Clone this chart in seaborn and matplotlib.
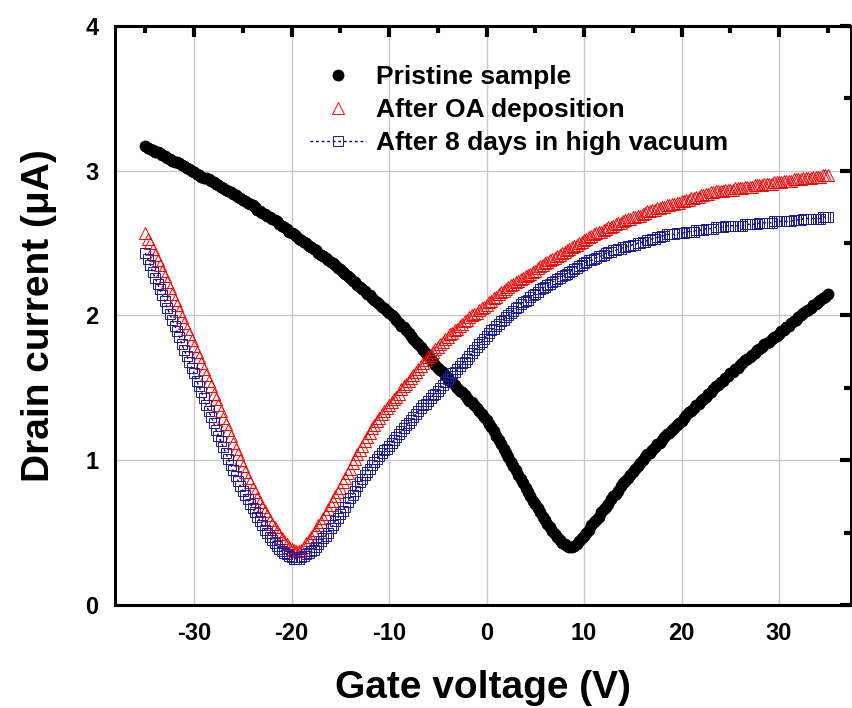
import numpy as np
import pandas as pd
import matplotlib
matplotlib.use('Agg')
import matplotlib.pyplot as plt
import seaborn as sns
from matplotlib.ticker import MultipleLocator

# gate voltage sweep, -35 V .. 35 V in 0.25 V steps
gate_v = np.arange(-35, 35.01, 0.25)

# drain current (uA), 20 points (5 V) per row
pristine = [
    3.17, 3.16, 3.15, 3.14, 3.13, 3.13, 3.12, 3.11, 3.10, 3.09, 3.08, 3.07, 3.06, 3.06, 3.05, 3.04, 3.03, 3.02, 3.01, 3.00,
    2.99, 2.98, 2.97, 2.96, 2.95, 2.95, 2.94, 2.93, 2.92, 2.91, 2.90, 2.89, 2.88, 2.87, 2.86, 2.85, 2.84, 2.83, 2.82, 2.81,
    2.80, 2.79, 2.78, 2.77, 2.76, 2.75, 2.73, 2.72, 2.71, 2.70, 2.69, 2.68, 2.67, 2.66, 2.65, 2.63, 2.62, 2.61, 2.60, 2.58,
    2.57, 2.56, 2.55, 2.53, 2.52, 2.51, 2.50, 2.48, 2.47, 2.46, 2.45, 2.43, 2.42, 2.41, 2.40, 2.38, 2.37, 2.36, 2.35, 2.33,
    2.32, 2.30, 2.29, 2.27, 2.26, 2.24, 2.23, 2.21, 2.20, 2.18, 2.17, 2.15, 2.14, 2.12, 2.11, 2.09, 2.08, 2.06, 2.05, 2.03,
    2.02, 2.00, 1.99, 1.97, 1.95, 1.93, 1.92, 1.90, 1.88, 1.86, 1.84, 1.82, 1.80, 1.78, 1.76, 1.74, 1.72, 1.70, 1.68, 1.66,
    1.64, 1.62, 1.61, 1.59, 1.57, 1.55, 1.54, 1.52, 1.50, 1.48, 1.47, 1.45, 1.43, 1.41, 1.40, 1.38, 1.36, 1.34, 1.32, 1.30,
    1.28, 1.25, 1.23, 1.20, 1.17, 1.14, 1.11, 1.08, 1.05, 1.02, 0.99, 0.96, 0.93, 0.90, 0.87, 0.84, 0.81, 0.78, 0.75, 0.72,
    0.70, 0.67, 0.64, 0.61, 0.59, 0.56, 0.54, 0.51, 0.49, 0.47, 0.45, 0.43, 0.42, 0.41, 0.40, 0.40, 0.41, 0.42, 0.44, 0.46,
    0.48, 0.50, 0.52, 0.55, 0.57, 0.59, 0.61, 0.64, 0.66, 0.68, 0.70, 0.73, 0.75, 0.77, 0.79, 0.82, 0.84, 0.86, 0.88, 0.90,
    0.92, 0.94, 0.96, 0.98, 1.00, 1.02, 1.04, 1.05, 1.07, 1.09, 1.11, 1.12, 1.14, 1.16, 1.18, 1.19, 1.21, 1.22, 1.24, 1.26,
    1.27, 1.29, 1.31, 1.33, 1.34, 1.36, 1.38, 1.39, 1.41, 1.42, 1.44, 1.46, 1.47, 1.49, 1.51, 1.52, 1.54, 1.55, 1.57, 1.58,
    1.60, 1.61, 1.63, 1.64, 1.66, 1.67, 1.69, 1.70, 1.71, 1.73, 1.74, 1.76, 1.77, 1.78, 1.80, 1.81, 1.82, 1.84, 1.85, 1.86,
    1.87, 1.89, 1.90, 1.92, 1.93, 1.95, 1.96, 1.97, 1.99, 2.00, 2.02, 2.03, 2.04, 2.05, 2.07, 2.08, 2.09, 2.11, 2.12, 2.13,
    2.15,
]

after_oa = [
    2.57, 2.53, 2.50, 2.46, 2.42, 2.38, 2.35, 2.31, 2.27, 2.23, 2.19, 2.15, 2.11, 2.07, 2.03, 1.99, 1.95, 1.91, 1.87, 1.83,
    1.79, 1.75, 1.71, 1.67, 1.63, 1.59, 1.55, 1.51, 1.46, 1.42, 1.38, 1.34, 1.29, 1.25, 1.21, 1.17, 1.12, 1.08, 1.04, 1.00,
    0.96, 0.92, 0.88, 0.85, 0.81, 0.78, 0.74, 0.71, 0.68, 0.65, 0.62, 0.59, 0.56, 0.54, 0.51, 0.49, 0.46, 0.44, 0.42, 0.40,
    0.39, 0.38, 0.37, 0.37, 0.38, 0.40, 0.43, 0.45, 0.47, 0.50, 0.52, 0.55, 0.57, 0.60, 0.63, 0.66, 0.69, 0.72, 0.75, 0.78,
    0.81, 0.85, 0.88, 0.91, 0.94, 0.98, 1.01, 1.04, 1.07, 1.10, 1.13, 1.16, 1.19, 1.22, 1.24, 1.27, 1.29, 1.32, 1.34, 1.36,
    1.38, 1.40, 1.42, 1.44, 1.46, 1.49, 1.51, 1.53, 1.55, 1.57, 1.59, 1.61, 1.63, 1.65, 1.67, 1.69, 1.71, 1.73, 1.75, 1.77,
    1.78, 1.80, 1.82, 1.84, 1.85, 1.87, 1.88, 1.90, 1.91, 1.93, 1.94, 1.96, 1.97, 1.99, 2.00, 2.01, 2.02, 2.04, 2.05, 2.06,
    2.07, 2.09, 2.10, 2.12, 2.13, 2.15, 2.16, 2.17, 2.18, 2.20, 2.21, 2.22, 2.23, 2.24, 2.25, 2.26, 2.27, 2.28, 2.29, 2.30,
    2.31, 2.33, 2.34, 2.35, 2.36, 2.37, 2.38, 2.39, 2.40, 2.41, 2.42, 2.43, 2.44, 2.45, 2.46, 2.47, 2.48, 2.49, 2.50, 2.51,
    2.52, 2.53, 2.54, 2.55, 2.56, 2.57, 2.58, 2.58, 2.59, 2.60, 2.61, 2.61, 2.62, 2.63, 2.64, 2.64, 2.65, 2.66, 2.67, 2.67,
    2.68, 2.68, 2.69, 2.69, 2.70, 2.71, 2.72, 2.72, 2.73, 2.73, 2.74, 2.74, 2.75, 2.75, 2.76, 2.76, 2.77, 2.77, 2.78, 2.78,
    2.79, 2.79, 2.80, 2.80, 2.81, 2.81, 2.82, 2.82, 2.83, 2.83, 2.84, 2.84, 2.85, 2.85, 2.86, 2.86, 2.86, 2.86, 2.87, 2.87,
    2.87, 2.87, 2.88, 2.88, 2.88, 2.88, 2.89, 2.89, 2.89, 2.89, 2.90, 2.90, 2.90, 2.90, 2.91, 2.91, 2.91, 2.91, 2.92, 2.92,
    2.92, 2.92, 2.93, 2.93, 2.93, 2.93, 2.94, 2.94, 2.94, 2.94, 2.95, 2.95, 2.95, 2.95, 2.96, 2.96, 2.96, 2.96, 2.97, 2.97,
    2.97,
]

after_vacuum = [
    2.43, 2.39, 2.35, 2.30, 2.26, 2.22, 2.18, 2.14, 2.10, 2.05, 2.01, 1.97, 1.93, 1.89, 1.85, 1.80, 1.76, 1.72, 1.68, 1.64,
    1.60, 1.55, 1.51, 1.47, 1.43, 1.38, 1.34, 1.30, 1.26, 1.21, 1.17, 1.13, 1.09, 1.05, 1.01, 0.97, 0.93, 0.89, 0.86, 0.82,
    0.79, 0.76, 0.73, 0.70, 0.67, 0.64, 0.61, 0.58, 0.55, 0.52, 0.50, 0.47, 0.45, 0.43, 0.41, 0.39, 0.37, 0.36, 0.35, 0.34,
    0.33, 0.32, 0.32, 0.32, 0.33, 0.34, 0.35, 0.36, 0.37, 0.38, 0.40, 0.42, 0.44, 0.46, 0.48, 0.50, 0.53, 0.55, 0.58, 0.60,
    0.63, 0.65, 0.68, 0.71, 0.74, 0.76, 0.79, 0.82, 0.85, 0.87, 0.90, 0.92, 0.94, 0.97, 0.99, 1.01, 1.03, 1.05, 1.07, 1.08,
    1.10, 1.12, 1.14, 1.16, 1.18, 1.20, 1.22, 1.24, 1.26, 1.28, 1.30, 1.32, 1.34, 1.36, 1.38, 1.39, 1.41, 1.43, 1.45, 1.46,
    1.48, 1.50, 1.52, 1.54, 1.56, 1.58, 1.60, 1.61, 1.63, 1.65, 1.67, 1.68, 1.70, 1.72, 1.74, 1.76, 1.78, 1.80, 1.82, 1.84,
    1.86, 1.88, 1.90, 1.91, 1.93, 1.94, 1.96, 1.97, 1.99, 2.00, 2.02, 2.03, 2.05, 2.06, 2.08, 2.09, 2.10, 2.11, 2.13, 2.14,
    2.15, 2.16, 2.18, 2.19, 2.20, 2.21, 2.22, 2.23, 2.24, 2.25, 2.26, 2.27, 2.28, 2.29, 2.30, 2.31, 2.32, 2.33, 2.34, 2.35,
    2.36, 2.37, 2.38, 2.38, 2.39, 2.40, 2.41, 2.41, 2.42, 2.43, 2.44, 2.44, 2.45, 2.45, 2.46, 2.46, 2.47, 2.47, 2.48, 2.48,
    2.49, 2.49, 2.50, 2.50, 2.51, 2.51, 2.52, 2.52, 2.53, 2.53, 2.54, 2.54, 2.55, 2.55, 2.56, 2.56, 2.56, 2.56, 2.57, 2.57,
    2.57, 2.57, 2.58, 2.58, 2.58, 2.58, 2.59, 2.59, 2.59, 2.59, 2.60, 2.60, 2.60, 2.60, 2.61, 2.61, 2.61, 2.61, 2.62, 2.62,
    2.62, 2.62, 2.62, 2.62, 2.62, 2.62, 2.63, 2.63, 2.63, 2.63, 2.63, 2.63, 2.64, 2.64, 2.64, 2.64, 2.64, 2.64, 2.65, 2.65,
    2.65, 2.65, 2.65, 2.65, 2.65, 2.65, 2.66, 2.66, 2.66, 2.66, 2.67, 2.67, 2.67, 2.67, 2.67, 2.67, 2.67, 2.67, 2.68, 2.68,
    2.68,
]

labels = ['Pristine sample', 'After OA deposition', 'After 8 days in high vacuum']

df = pd.DataFrame({'vg': gate_v, 'pristine': pristine,
                   'oa': after_oa, 'vac': after_vacuum})

sns.set_theme(style='white')
plt.rcParams['font.family'] = ['Liberation Sans', 'DejaVu Sans']
plt.rcParams['font.weight'] = 'bold'
plt.rcParams['axes.unicode_minus'] = False
for key in ['text.color', 'axes.labelcolor', 'xtick.color', 'ytick.color']:
    plt.rcParams[key] = 'black'

fig = plt.figure(figsize=(8.53, 7.08), dpi=100)
ax = fig.add_axes([0.135, 0.1455, 0.8628, 0.8178])

# --- data ---
sns.lineplot(data=df, x='vg', y='pristine', ax=ax, sort=False, estimator=None,
             linestyle='none', marker='o', markersize=8, color='black',
             markerfacecolor='black', markeredgecolor='black', markeredgewidth=0.5,
             label=labels[0], zorder=3)
sns.lineplot(data=df, x='vg', y='oa', ax=ax, sort=False, estimator=None,
             linestyle='none', marker='^', markersize=8, color='red',
             markerfacecolor='none', markeredgecolor='red', markeredgewidth=0.7,
             label=labels[1], zorder=4)
sns.lineplot(data=df, x='vg', y='vac', ax=ax, sort=False, estimator=None,
             linestyle=(0, (2, 2)), linewidth=1, marker='s', markersize=6.5, color='#000080',
             markerfacecolor='none', markeredgecolor='#1a1aa0', markeredgewidth=0.7,
             label=labels[2], zorder=4)

# --- axes styling ---
ax.set_xlim(-38.1, 37.4)
ax.set_ylim(0, 4)
ax.xaxis.set_major_locator(MultipleLocator(10))
ax.xaxis.set_minor_locator(MultipleLocator(5))
ax.yaxis.set_major_locator(MultipleLocator(1))
ax.yaxis.set_minor_locator(MultipleLocator(0.5))
ax.grid(True, which='major', color='#c8c8c8', linewidth=1)
ax.set_axisbelow(True)

for sp in ax.spines.values():
    sp.set_visible(True)
    sp.set_linewidth(2.2)
    sp.set_color('black')

ax.tick_params(which='both', direction='in', top=True, right=True,
               color='black', labelsize=17, pad=12)
ax.tick_params(which='major', length=8, width=3)
ax.tick_params(which='minor', length=5, width=3)
for t in ax.get_xticklabels() + ax.get_yticklabels():
    t.set_fontweight('bold')

ax.set_xlabel('Gate voltage (V)', fontsize=28, fontweight='bold', labelpad=18)
ax.set_ylabel('Drain current (μA)', fontsize=28, fontweight='bold', labelpad=20)

ax.legend(loc='upper left', bbox_to_anchor=(0.251, 0.951), frameon=False,
          prop={'size': 19, 'weight': 'bold'}, handlelength=2.1,
          handletextpad=0.4, labelspacing=0.34, borderaxespad=0)

fig.savefig('out.png', dpi=100)
plt.close(fig)
